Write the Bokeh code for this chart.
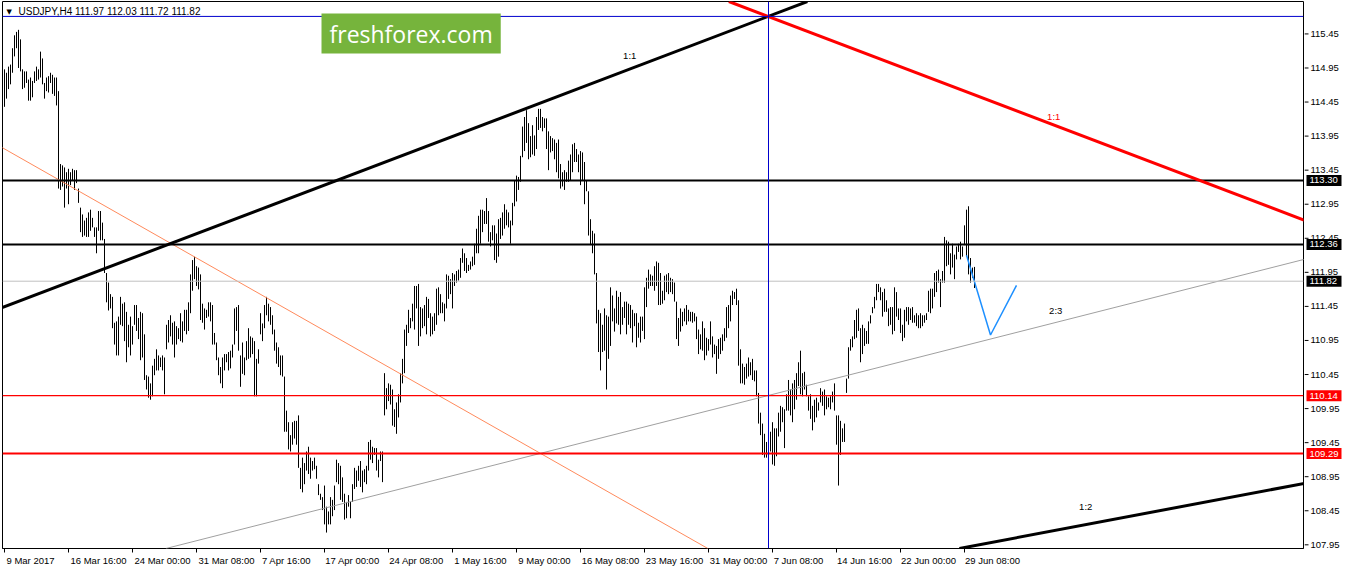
from bokeh.plotting import figure
from bokeh.layouts import row
from bokeh.models import Range1d, FixedTicker, Slope, Span, Label, ColumnDataSource
from bokeh.embed import file_html
from bokeh.resources import INLINE

# ---------------- data (H4 bars, high / low) ----------------
bar_high = [
    114.93, 114.88, 114.97, 115.00, 115.24, 115.43, 115.48, 115.51, 115.37, 114.93,
    114.90, 114.90, 114.78, 114.81, 114.76, 114.90, 114.97, 114.93, 115.19, 115.09,
    114.73, 114.81, 114.83, 114.88, 114.85, 114.81, 114.81, 114.61, 113.54, 113.52,
    113.49, 113.42, 113.47, 113.42, 113.47, 113.45, 113.45, 113.18, 112.90, 112.80,
    112.71, 112.75, 112.83, 112.87, 112.75, 112.61, 112.61, 112.85, 112.85, 112.68,
    112.44, 111.94, 111.80, 111.63, 111.59, 111.21, 111.23, 111.30, 111.59, 111.49,
    111.51, 111.37, 111.18, 111.30, 111.16, 111.47, 111.47, 111.28, 111.37, 111.35,
    111.04, 110.44, 110.42, 110.32, 110.58, 110.68, 110.82, 110.73, 110.70, 110.73,
    110.70, 111.18, 111.25, 111.32, 111.21, 111.23, 111.16, 111.13, 111.35, 111.23,
    111.40, 111.40, 111.51, 111.92, 112.13, 112.18, 112.04, 112.02, 111.92, 111.49,
    111.42, 111.40, 111.51, 111.51, 111.47, 111.06, 110.92, 110.70, 110.56, 110.70,
    110.75, 110.75, 110.78, 110.80, 110.89, 111.42, 111.44, 111.47, 110.73, 110.92,
    110.70, 110.94, 111.13, 111.01,
    110.99, 110.94, 110.68, 110.82, 111.35, 111.20, 111.47, 111.59, 111.49, 111.44,
    111.32, 111.11, 110.92, 110.85, 110.73, 110.73, 110.42, 109.92, 109.75, 109.56,
    109.75, 109.77, 109.77, 109.85, 109.08, 109.23, 109.15, 109.32, 109.39, 109.23,
    109.18, 109.23, 109.11, 108.84, 108.70, 108.65, 108.82, 108.51, 108.44, 108.65,
    108.61, 108.82, 109.20, 109.15, 109.11, 108.94, 108.70, 108.58, 108.68, 108.58,
    108.84, 109.08, 109.04, 109.11, 109.18, 109.04, 109.06, 109.11, 109.46, 109.49,
    109.39, 109.37, 109.37, 109.20, 109.32, 109.32, 110.47, 110.25, 110.32, 110.30,
    110.23, 109.94, 110.04, 110.16, 110.47, 110.68, 111.11, 111.18, 111.40, 111.28,
    111.49, 111.75, 111.75, 111.78, 111.44, 111.42, 111.47, 111.59, 111.56, 111.35,
    111.30, 111.35, 111.71, 111.73, 111.63, 111.51, 111.49, 111.92, 111.90, 111.85,
    111.94, 111.92, 111.97, 111.99, 112.16, 112.30, 112.23, 112.16, 112.06, 112.11,
    112.18, 112.37, 112.59, 112.78, 112.87, 112.87, 112.85, 113.04, 112.85, 112.54,
    112.64, 112.64, 112.52, 112.73, 112.75, 112.83, 112.95, 112.87, 112.83, 112.71,
    112.97, 113.30, 113.37, 113.35, 113.66, 114.09, 114.23, 114.33, 114.14, 113.95,
    114.11, 113.96, 114.23, 114.35, 114.35, 114.23, 114.21, 114.21, 114.02, 113.95,
    113.92, 113.90, 113.85, 113.90, 113.54, 113.42, 113.45, 113.42, 113.59, 113.68,
    113.83, 113.85, 113.76, 113.68, 113.73, 113.71, 113.57, 113.30, 113.14, 112.73,
    112.56, 112.52, 111.94, 111.40, 111.35, 111.18, 111.42, 111.32, 111.30, 111.73,
    111.61, 111.42, 111.68, 111.59, 111.66, 111.44, 111.52, 111.52, 111.49, 111.47,
    111.40, 111.35, 111.35, 111.21, 111.30, 111.30, 111.73, 111.87, 111.99, 111.92,
    111.90, 112.04, 112.11, 112.09, 111.94, 111.68, 111.90, 111.92, 111.94, 111.87,
    111.85, 111.80, 111.52, 111.28, 111.42, 111.37, 111.42, 111.47, 111.40, 111.37,
    111.37, 111.35, 111.30, 111.11, 111.04, 111.23, 111.13, 110.99, 110.97, 111.23,
    111.01, 110.89, 110.87, 110.97, 110.99, 111.04, 111.13, 111.44, 111.47, 111.61,
    111.68, 111.66, 111.71, 111.54, 110.82, 110.61, 110.56, 110.61, 110.70, 110.63,
    110.68, 110.51, 110.51, 110.18, 109.89, 109.73, 109.58, 109.46, 109.61, 109.61,
    109.75, 109.66, 109.66, 109.89, 109.99, 109.97, 109.94, 110.16, 110.37, 110.23,
    110.32, 110.37, 110.47, 110.63, 110.80, 110.47, 110.49, 110.30, 110.13, 110.16,
    109.99, 110.08, 110.11, 110.04, 110.25, 110.20, 110.23, 110.13, 110.11, 110.13,
    110.20, 110.32, 109.85, 109.85, 109.77, 109.66, 109.73, 110.39, 110.85, 110.97,
    111.01, 111.25, 111.40, 111.42, 111.13, 111.18, 111.13, 111.09, 111.23, 111.32,
    111.44, 111.59, 111.78, 111.78, 111.73, 111.66, 111.71, 111.54, 111.42, 111.44,
    111.44, 111.73, 111.66, 111.42, 111.42, 111.18, 111.40, 111.44, 111.44, 111.42,
    111.44, 111.32, 111.35, 111.32, 111.35, 111.32, 111.32, 111.35, 111.68, 111.71,
    111.71, 111.94, 111.97, 111.99, 111.85, 111.97, 112.47, 112.42, 112.40, 112.23,
    112.37, 112.21, 112.33, 112.37, 112.40, 112.33, 112.64, 112.87, 112.92, 112.16,
    112.02, 112.03,
]

bar_low = [
    114.38, 114.50, 114.64, 114.71, 114.88, 115.12, 115.24, 114.95, 114.90, 114.64,
    114.66, 114.73, 114.47, 114.47, 114.52, 114.73, 114.76, 114.78, 114.81, 114.71,
    114.50, 114.61, 114.59, 114.73, 114.57, 114.54, 114.40, 113.18, 113.16, 113.21,
    112.90, 113.18, 112.95, 113.23, 113.30, 113.16, 113.26, 112.97, 112.54, 112.47,
    112.49, 112.47, 112.47, 112.56, 112.61, 112.47, 112.23, 112.56, 112.42, 112.42,
    111.94, 111.51, 111.39, 111.42, 111.13, 110.89, 110.73, 110.73, 111.18, 111.16,
    110.94, 110.63, 110.85, 110.73, 110.89, 111.18, 111.09, 110.97, 110.66, 110.70,
    110.37, 110.23, 110.11, 110.08, 110.13, 110.44, 110.51, 110.51, 110.56, 110.51,
    110.16, 110.82, 110.92, 111.01, 110.89, 110.70, 110.89, 110.97, 110.94, 110.92,
    111.09, 111.04, 111.09, 111.35, 111.68, 111.85, 111.75, 111.70, 111.25, 111.21,
    111.11, 111.28, 111.30, 111.23, 110.89, 110.89, 110.66, 110.44, 110.32, 110.25,
    110.51, 110.63, 110.51, 110.54, 110.70, 110.89, 111.09, 110.80, 110.27, 110.46,
    110.44, 110.66, 110.68, 110.70,
    110.75, 110.13, 110.13, 110.61, 111.04, 110.94, 111.13, 111.32, 111.23, 111.18,
    111.04, 110.80, 110.61, 110.56, 110.44, 110.42, 109.61, 109.61, 109.35, 109.32,
    109.42, 109.51, 109.42, 109.08, 108.77, 108.72, 108.84, 109.04, 108.99, 108.92,
    109.04, 109.06, 108.92, 108.68, 108.61, 108.46, 108.25, 108.13, 108.25, 108.25,
    108.37, 108.46, 108.87, 108.84, 108.61, 108.58, 108.32, 108.34, 108.51, 108.34,
    108.58, 108.77, 108.80, 108.89, 108.80, 108.72, 108.87, 108.84, 109.04, 109.20,
    109.15, 109.27, 109.04, 108.94, 109.18, 108.87, 109.85, 109.94, 110.06, 110.01,
    109.70, 109.68, 109.58, 109.82, 110.04, 110.32, 110.47, 110.87, 111.06, 111.13,
    111.23, 111.11, 111.42, 110.87, 111.01, 111.13, 111.16, 111.04, 111.28, 111.01,
    111.04, 111.09, 111.18, 111.32, 111.35, 111.35, 111.23, 111.42, 111.56, 111.63,
    111.42, 111.75, 111.80, 111.83, 111.87, 112.09, 111.97, 111.94, 111.97, 111.99,
    112.04, 112.06, 112.23, 112.23, 112.37, 112.54, 112.66, 112.66, 112.40, 112.33,
    112.42, 112.13, 112.09, 112.18, 112.44, 112.49, 112.59, 112.64, 112.61, 112.37,
    112.64, 112.92, 112.99, 113.16, 113.28, 113.64, 113.73, 113.85, 113.61, 113.64,
    113.68, 113.66, 113.76, 114.04, 114.07, 114.02, 114.07, 113.76, 113.45, 113.71,
    113.73, 113.61, 113.42, 113.33, 113.18, 113.21, 113.16, 113.28, 113.28, 113.30,
    113.42, 113.57, 113.57, 113.42, 113.23, 113.30, 112.95, 113.14, 112.49, 112.35,
    112.23, 111.92, 111.20, 110.78, 110.51, 110.78, 110.80, 110.23, 110.68, 110.87,
    111.23, 111.08, 111.20, 111.18, 111.04, 111.18, 111.28, 111.04, 111.18, 111.13,
    110.92, 111.16, 110.85, 110.99, 110.92, 111.09, 110.97, 111.44, 111.71, 111.75,
    111.75, 111.68, 111.75, 111.47, 111.47, 111.49, 111.54, 111.66, 111.63, 111.66,
    111.63, 111.52, 110.97, 110.87, 111.08, 111.16, 111.23, 111.18, 111.23, 111.23,
    111.21, 111.23, 110.97, 110.75, 110.82, 110.80, 110.66, 110.73, 110.80, 110.89,
    110.70, 110.75, 110.46, 110.68, 110.75, 110.80, 110.94, 110.99, 111.13, 111.23,
    111.47, 111.56, 111.47, 110.58, 110.32, 110.32, 110.30, 110.39, 110.42, 110.44,
    110.37, 110.35, 110.13, 109.73, 109.56, 109.27, 109.23, 109.23, 109.42, 109.32,
    109.13, 109.11, 109.25, 109.54, 109.61, 109.75, 109.37, 109.92, 109.92, 109.85,
    109.75, 109.94, 110.08, 110.28, 110.16, 110.13, 110.23, 110.13, 109.92, 109.80,
    109.63, 109.75, 109.82, 109.92, 110.04, 109.99, 109.85, 109.94, 109.97, 109.94,
    110.04, 109.92, 109.42, 108.82, 109.27, 109.46, 109.46, 110.18, 110.39, 110.80,
    110.85, 110.97, 110.99, 111.09, 110.63, 110.75, 110.87, 110.90, 110.90, 111.20,
    111.35, 111.42, 111.54, 111.66, 111.54, 111.30, 111.37, 111.37, 111.16, 111.18,
    111.04, 111.09, 111.30, 111.25, 111.06, 110.94, 110.99, 111.23, 111.18, 111.25,
    111.21, 111.21, 111.16, 111.13, 111.13, 111.16, 111.21, 111.25, 111.37, 111.35,
    111.42, 111.59, 111.66, 111.80, 111.44, 111.80, 111.80, 112.04, 112.06, 111.92,
    112.02, 111.85, 112.14, 112.25, 112.14, 112.18, 112.35, 112.18, 111.92, 111.80,
    111.87, 111.72,
]

# x-axis: bar index of each date label
tick_bars = [0, 32, 64, 96, 128, 160, 192, 224, 256, 288, 320, 352, 384, 416, 448, 480]
tick_labels = ["9 Mar 2017", "16 Mar 16:00", "24 Mar 00:00", "31 Mar 08:00", "7 Apr 16:00",
               "17 Apr 00:00", "24 Apr 08:00", "1 May 16:00", "9 May 00:00", "16 May 08:00",
               "23 May 16:00", "31 May 00:00", "7 Jun 08:00", "14 Jun 16:00", "22 Jun 00:00",
               "29 Jun 08:00"]
price_ticks = [107.95, 108.45, 108.95, 109.45, 109.95, 110.45, 110.95, 111.45, 111.95,
               112.45, 112.95, 113.45, 113.95, 114.45, 114.95, 115.45]
price_tick_labels = ["107.95", "108.45", "108.95", "109.45", "109.95", "110.45", "110.95",
                     "111.45", "111.95", "112.45", "112.95", "113.45", "113.95", "114.45",
                     "114.95", "115.45"]

# horizontal levels
level_black = [113.30, 112.36]
level_red = [110.14, 109.29]
bid_price = 111.82

# trend lines (gradient per bar, intercept at bar 0)
fan_black_11 = (0.01116, 111.446)
fan_red_11 = (-0.01116, 119.968)
fan_23 = (0.007458, 107.294)
fan_12 = (0.005544, 105.249)
fib_orange = (-0.01668, 113.762)

# blue forecast path (bar index, price)
forecast_x = [481, 493, 506]
forecast_y = [112.20, 111.03, 111.76]

cross_bar = 382
cross_price = 115.707

FONT = "Liberation Sans"
FS = 9.5
PX_PER_BAR = 2.0

# Arial-metric widths (1/1000 em) to place left-aligned date labels
_W = {" ": 278, ":": 278, "M": 833, "a": 556, "r": 333, "A": 667, "p": 556, "y": 500,
      "J": 500, "u": 556, "n": 556}


def text_px(s):
    return sum(_W.get(c, 556) for c in s) / 1000.0 * FS


label_centers = [int(round(b + (1.5 + text_px(t) / 2.0) / PX_PER_BAR)) for b, t in zip(tick_bars, tick_labels)]

y_rng = Range1d(107.896, 115.926)
H = 568
BORDER_TOP = 1
BORDER_BOTTOM = 18

idx = list(range(len(bar_high)))
src = ColumnDataSource(dict(x=idx, hi=bar_high, lo=bar_low))

p = figure(width=1304, height=H, x_range=Range1d(-1.0, 649.5), y_range=y_rng,
           output_backend="svg", toolbar_location=None, y_axis_location=None,
           min_border_left=2, min_border_right=1, min_border_top=BORDER_TOP,
           min_border_bottom=BORDER_BOTTOM)
p.grid.visible = False
p.outline_line_color = "black"
p.outline_line_width = 1
p.outline_line_alpha = 1.0

xa = p.xaxis[0]
xa.ticker = FixedTicker(ticks=label_centers, minor_ticks=tick_bars)
xa.major_label_overrides = {c: l for c, l in zip(label_centers, tick_labels)}
xa.major_tick_out = 0
xa.major_tick_in = 0
xa.minor_tick_out = 4
xa.minor_tick_in = 0
xa.minor_tick_line_color = "black"
xa.major_label_standoff = 2
xa.axis_line_color = "black"
xa.major_label_text_font = FONT
xa.major_label_text_font_size = f"{FS}px"
xa.major_label_text_color = "black"

# lines behind bars
p.add_layout(Slope(gradient=fib_orange[0], y_intercept=fib_orange[1], line_color="#ff8a5c", line_width=1))
p.add_layout(Slope(gradient=fan_23[0], y_intercept=fan_23[1], line_color="#a0a0a0", line_width=1))
p.add_layout(Span(location=bid_price, dimension="width", line_color="#c0c0c0", line_width=1))
for lv in level_black:
    p.add_layout(Span(location=lv, dimension="width", line_color="black", line_width=2))
p.add_layout(Span(location=level_red[0], dimension="width", line_color="#ff0000", line_width=1.2))
p.add_layout(Span(location=level_red[1], dimension="width", line_color="#ff0000", line_width=2))
p.add_layout(Slope(gradient=fan_black_11[0], y_intercept=fan_black_11[1], line_color="black", line_width=3))
p.add_layout(Slope(gradient=fan_red_11[0], y_intercept=fan_red_11[1], line_color="#ff0000", line_width=3))
p.add_layout(Slope(gradient=fan_12[0], y_intercept=fan_12[1], line_color="black", line_width=3))
p.add_layout(Span(location=cross_bar, dimension="height", line_color="#0000cd", line_width=1))
p.add_layout(Span(location=cross_price, dimension="width", line_color="#0000cd", line_width=1))

# bars
p.segment(x0="x", y0="lo", x1="x", y1="hi", source=src, line_color="black", line_width=1)

# forecast
p.line(forecast_x, forecast_y, line_color="#1e90ff", line_width=1.5)

# fan captions
for txt, xb, yp, col in [("1:1", 309.3, 115.135, "black"), ("1:1", 521.3, 114.233, "#ff0000"),
                         ("2:3", 522.3, 111.386, "black"), ("1:2", 537.3, 108.51, "black")]:
    p.add_layout(Label(x=xb, y=yp, text=txt, text_color=col, text_font=FONT,
                       text_font_size=f"{FS}px", text_baseline="middle", text_align="left"))

# title
p.add_layout(Label(x=-1.0, y=115.926, x_offset=4, y_offset=-10, text="\u25bc", text_font="DejaVu Sans",
                   text_font_size="7px", text_baseline="middle", text_color="black"))
p.add_layout(Label(x=-1.0, y=115.926, x_offset=16, y_offset=-10,
                   text="USDJPY,H4  111.97 112.03 111.72 111.82", text_font=FONT,
                   text_font_size="10px", text_baseline="middle", text_color="black"))

# watermark
p.add_layout(Label(x=158.5, y=115.456, text="freshforex.com", text_font="Open Sans",
                   text_font_size="23px", text_color="white", text_baseline="middle",
                   text_align="left", background_fill_color="#76b43c", padding=(8, 4)))

# ---------------- right price scale (separate narrow panel sharing the price range) ----------------
s = figure(width=38, height=H, x_range=Range1d(0, 38), y_range=y_rng, output_backend="svg",
           toolbar_location=None, x_axis_location=None, y_axis_location=None,
           min_border_left=0, min_border_right=0, min_border_top=BORDER_TOP,
           min_border_bottom=BORDER_BOTTOM)
s.grid.visible = False
s.outline_line_color = None
s.segment(x0=[0] * len(price_ticks), x1=[4] * len(price_ticks), y0=price_ticks, y1=price_ticks,
          line_color="black", line_width=1)
s.text(x=[6] * len(price_ticks), y=price_ticks, text=price_tick_labels, text_font_size=f"{FS}px",
       text_baseline="middle", text_align="left", text_color="black", text_font={"value": FONT})

box_prices = [level_black[0], level_black[1], bid_price, level_red[0], level_red[1]]
box_colors = ["black", "black", "black", "#ff0000", "#ff0000"]
box_texts = [f"{v:.2f}" for v in box_prices]
s.rect(x=[19.5] * 5, y=box_prices, width=35, height=11, width_units="screen", height_units="screen",
       fill_color=box_colors, line_color=None)
s.text(x=[5] * 5, y=box_prices, text=box_texts, text_font_size=f"{FS}px", text_baseline="middle",
       text_align="left", text_color="white", text_font={"value": FONT})

layout = row(p, s)
open("out.html", "w").write(file_html(layout, INLINE))
